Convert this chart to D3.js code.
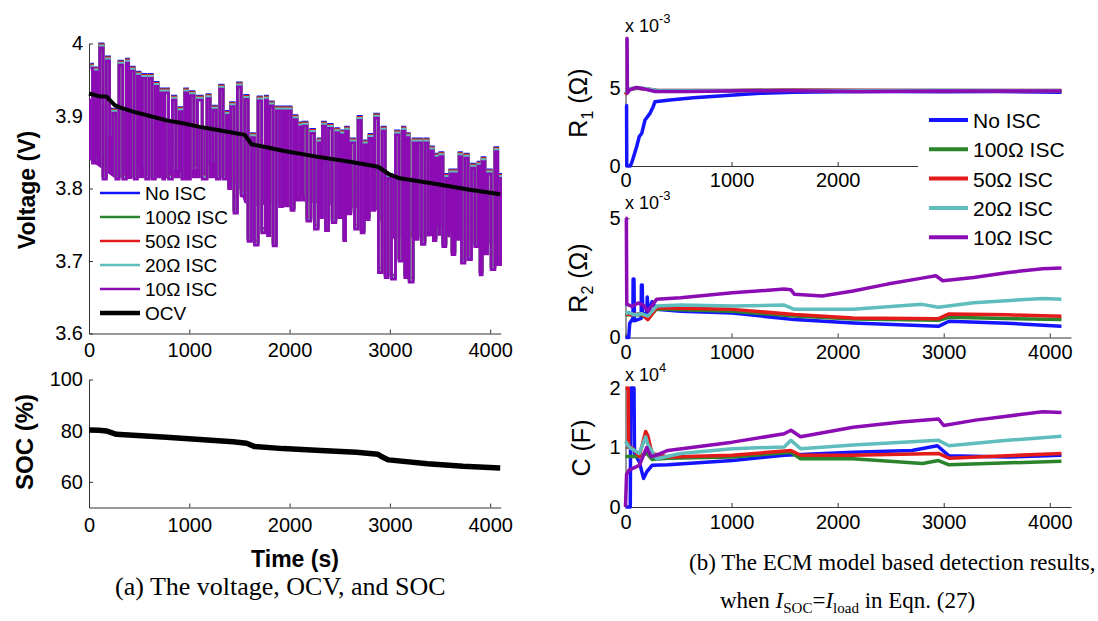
<!DOCTYPE html>
<html>
<head>
<meta charset="utf-8">
<script src="https://cdn.jsdelivr.net/npm/d3@7"></script>
<style>
  body { margin: 0; background: #fff; }
  svg text { font-family: "Liberation Sans", Arial, sans-serif; }
  .axis path, .axis line { stroke: #333; }
  .axis text { font-size: 20px; fill: #000; }
  svg text.caption { font-family: "Liberation Serif", "Times New Roman", serif; font-size: 23px; }
</style>
</head>
<body>
<svg id="fig" width="1098" height="621"></svg>
<script>
// ---------- data ----------
const seriesNames = ["No ISC", "100Ω ISC", "50Ω ISC", "20Ω ISC", "10Ω ISC"];
const seriesColors = ["#1414ff", "#2b842b", "#e41b1b", "#5fbdbd", "#8c0cb4"];
const timeTicks = [0, 1000, 2000, 3000, 4000];
const r1TimeTicks = [0, 1000, 2000]; // 3000 and 4000 sit under the legend

// terminal voltage (10Ω trace, the others lie underneath it): pulse peaks and troughs
const voltPeakT = [14, 57, 107, 173, 236, 300, 373, 416, 483, 533, 598, 662, 715, 755, 832, 898, 955, 1011, 1081, 1177, 1237, 1304, 1371, 1413, 1480, 1553, 1620, 1686, 1759, 1802, 1869, 1929, 1985, 2045, 2102, 2135, 2212, 2285, 2328, 2388, 2461, 2518, 2558, 2611, 2684, 2743, 2793, 2850, 2923, 2983, 3056, 3126, 3166, 3232, 3282, 3349, 3409, 3459, 3499, 3558, 3598, 3648, 3691, 3748, 3814, 3880, 3920, 3974, 4047];
const voltPeakV = [3.966, 3.961, 3.994, 3.976, 3.904, 3.970, 3.973, 3.962, 3.955, 3.952, 3.952, 3.941, 3.932, 3.932, 3.922, 3.906, 3.932, 3.928, 3.922, 3.924, 3.908, 3.937, 3.901, 3.913, 3.940, 3.923, 3.870, 3.921, 3.922, 3.914, 3.907, 3.907, 3.907, 3.895, 3.885, 3.886, 3.876, 3.863, 3.886, 3.883, 3.877, 3.874, 3.879, 3.863, 3.894, 3.860, 3.869, 3.897, 3.879, 3.814, 3.874, 3.879, 3.870, 3.863, 3.863, 3.863, 3.852, 3.842, 3.844, 3.814, 3.820, 3.820, 3.844, 3.842, 3.828, 3.831, 3.837, 3.820, 3.851];
const voltLowT = [35, 80, 140, 205, 268, 336, 395, 450, 508, 565, 630, 688, 735, 793, 865, 926, 983, 1046, 1129, 1207, 1270, 1337, 1392, 1446, 1517, 1586, 1650, 1722, 1780, 1836, 1900, 1957, 2015, 2073, 2118, 2173, 2248, 2306, 2358, 2425, 2490, 2540, 2585, 2648, 2714, 2768, 2822, 2886, 2953, 3016, 3091, 3149, 3192, 3257, 3315, 3380, 3434, 3480, 3528, 3578, 3620, 3670, 3714, 3780, 3847, 3900, 3947, 4010, 4075];
const voltLowV = [3.835, 3.845, 3.813, 3.870, 3.813, 3.813, 3.815, 3.813, 3.830, 3.813, 3.813, 3.820, 3.813, 3.813, 3.825, 3.813, 3.813, 3.825, 3.813, 3.835, 3.813, 3.813, 3.800, 3.766, 3.790, 3.727, 3.722, 3.739, 3.735, 3.721, 3.775, 3.776, 3.770, 3.784, 3.790, 3.755, 3.744, 3.760, 3.742, 3.753, 3.760, 3.728, 3.765, 3.744, 3.739, 3.757, 3.770, 3.684, 3.677, 3.675, 3.700, 3.677, 3.671, 3.730, 3.723, 3.740, 3.728, 3.750, 3.720, 3.740, 3.709, 3.730, 3.697, 3.702, 3.720, 3.681, 3.710, 3.688, 3.695];
const voltEndT = 4104, voltEndV = 3.816;
// the dense, nearly solid part of the voltage trace
const bandT = [0, 250, 600, 1000, 1400, 1500, 1550, 1650, 2000, 2500, 2880, 2950, 3500, 4104];
const bandHi = [3.925, 3.910, 3.898, 3.886, 3.877, 3.875, 3.872, 3.858, 3.852, 3.842, 3.832, 3.822, 3.808, 3.795];
const bandLo = [3.840, 3.815, 3.814, 3.814, 3.814, 3.800, 3.780, 3.775, 3.785, 3.775, 3.770, 3.730, 3.735, 3.720];

const ocvT = [0, 107, 173, 256, 306, 439, 605, 772, 938, 1104, 1271, 1436, 1553, 1620, 1770, 1935, 2268, 2601, 2883, 3000, 3099, 3432, 3765, 4100];
const ocvV = [3.931, 3.927, 3.927, 3.915, 3.912, 3.906, 3.900, 3.894, 3.890, 3.885, 3.881, 3.877, 3.874, 3.861, 3.857, 3.852, 3.844, 3.837, 3.830, 3.819, 3.814, 3.807, 3.799, 3.792];

const socT = [0, 100, 173, 273, 439, 772, 1104, 1436, 1570, 1653, 1935, 2312, 2667, 2880, 2915, 2986, 3376, 3730, 4100];
const socV = [80.3, 80.2, 79.9, 78.6, 78.2, 77.4, 76.6, 75.7, 75.1, 73.8, 73.0, 72.3, 71.6, 70.8, 69.9, 68.6, 67.1, 66.1, 65.4];

// R1 (x 1e-3 ohm), [time, value]
const r1NoIsc = [[0, 3.9], [10, 3.9], [12, 0], [45, 0], [58, 0.2], [105, 1.24], [130, 1.9], [153, 2.1], [184, 2.96], [231, 3.39], [260, 3.8], [278, 4.14], [419, 4.25], [639, 4.4], [954, 4.53], [1268, 4.68], [1582, 4.74], [2000, 4.78], [2500, 4.8], [3000, 4.78], [3500, 4.8], [4110, 4.75]];
const r1Isc100 = [[0, 4.6], [30, 4.9], [100, 5.0], [200, 4.95], [300, 4.85], [1000, 4.85], [1500, 4.88], [2000, 4.85], [3000, 4.85], [4110, 4.85]];
const r1Isc50 = [[0, 4.6], [30, 4.95], [100, 5.02], [200, 4.95], [300, 4.86], [1000, 4.86], [1500, 4.9], [2300, 4.88], [3000, 4.86], [4110, 4.86]];
const r1Isc20 = [[0, 4.7], [30, 4.95], [100, 5.05], [200, 4.97], [300, 4.86], [1000, 4.86], [1500, 4.88], [2300, 4.86], [3000, 4.87], [4110, 4.86]];
const r1Isc10 = [[0, 8.2], [15, 8.2], [18, 4.7], [40, 4.9], [100, 5.05], [180, 4.95], [280, 4.8], [600, 4.8], [1100, 4.85], [1600, 4.85], [2200, 4.8], [3000, 4.82], [4110, 4.83]];

// R2 (x 1e-3 ohm)
const r2NoIsc = [[0, 0], [30, 0], [40, 0.6], [70, 0.8], [72, 2.45], [80, 2.45], [84, 0.7], [148, 0.8], [150, 2.2], [158, 2.2], [162, 1.0], [200, 1.0], [205, 1.7], [215, 1.0], [250, 1.5], [293, 1.18], [520, 1.1], [1008, 1.03], [1593, 0.75], [2145, 0.61], [2950, 0.47], [3050, 0.68], [3600, 0.6], [4110, 0.47]];
const r2Isc100 = [[0, 0.95], [150, 0.95], [211, 0.78], [293, 1.2], [1008, 1.1], [1593, 0.9], [2145, 0.78], [2950, 0.72], [3050, 0.85], [4110, 0.75]];
const r2Isc50 = [[0, 1.0], [50, 0.95], [150, 1.0], [211, 0.75], [293, 1.25], [1008, 1.18], [1593, 0.96], [2145, 0.82], [2950, 0.79], [3050, 0.99], [3600, 0.95], [4110, 0.89]];
const r2Isc20 = [[0, 1.0], [30, 1.05], [80, 0.95], [150, 1.0], [211, 0.9], [293, 1.32], [520, 1.36], [1008, 1.32], [1496, 1.36], [1593, 1.18], [2145, 1.18], [2796, 1.39], [2950, 1.27], [3283, 1.46], [3933, 1.64], [4110, 1.6]];
const r2Isc10 = [[0, 5.0], [8, 5.0], [12, 1.4], [60, 1.3], [120, 1.45], [170, 1.35], [211, 1.1], [250, 1.35], [293, 1.6], [520, 1.67], [1008, 1.88], [1496, 2.03], [1560, 2.0], [1593, 1.81], [1853, 1.74], [2145, 1.95], [2470, 2.24], [2796, 2.49], [2926, 2.59], [2991, 2.38], [3283, 2.52], [3608, 2.73], [3933, 2.88], [4110, 2.92]];

// C (x 1e4 F)
const cNoIsc = [[0, 0], [45, 0], [50, 2.0], [80, 2.0], [85, 0.9], [130, 0.76], [170, 0.48], [200, 0.59], [250, 0.7], [400, 0.71], [1008, 0.78], [1496, 0.87], [2145, 0.92], [2700, 0.95], [2940, 1.03], [3050, 0.86], [3600, 0.84], [4110, 0.87]];
const cIsc100 = [[0, 0.85], [130, 0.85], [200, 0.9], [250, 0.8], [400, 0.82], [1008, 0.84], [1560, 0.92], [1650, 0.81], [2145, 0.81], [2800, 0.73], [2950, 0.78], [3050, 0.71], [4110, 0.77]];
const cIsc50 = [[0, 2.0], [25, 2.0], [30, 1.0], [60, 1.0], [130, 0.85], [190, 1.27], [210, 1.2], [250, 0.9], [400, 0.84], [1008, 0.87], [1560, 0.95], [1650, 0.87], [2145, 0.87], [2950, 0.9], [3050, 0.82], [4110, 0.9]];
const cIsc20 = [[0, 1.1], [40, 1.0], [130, 0.9], [190, 1.18], [210, 1.05], [293, 0.81], [520, 0.9], [1008, 0.98], [1496, 1.01], [1560, 1.12], [1650, 0.98], [2145, 1.04], [2950, 1.12], [3050, 1.03], [3600, 1.12], [4110, 1.19]];
const cIsc10 = [[0, 0], [10, 0.55], [33, 0.62], [130, 0.7], [200, 1.0], [240, 0.85], [293, 0.87], [400, 0.95], [1008, 1.09], [1496, 1.23], [1560, 1.29], [1650, 1.18], [2145, 1.34], [2600, 1.43], [2950, 1.48], [3000, 1.37], [3300, 1.46], [3933, 1.6], [4110, 1.59]];

// ---------- layout ----------
const svg = d3.select("svg#fig");

const xLeft = d3.scaleLinear().domain([0, 4105]).range([89, 500.7]);
const yVolt = d3.scaleLinear().domain([3.6, 4]).range([333.5, 43.5]);
const ySoc = d3.scaleLinear().domain([50, 100]).range([507.5, 379.5]);

const xRight = d3.scaleLinear().domain([0, 4200]).range([625.5, 1071]);
const yR1 = d3.scaleLinear().domain([0, 8.2]).range([166, 38.6]);
const yR2 = d3.scaleLinear().domain([0, 5]).range([337.5, 218.3]);
const yC = d3.scaleLinear().domain([0, 2]).range([507, 388]);

function addAxes(xScale, yScale, xTicks, yTicks, xPad, yPad) {
  svg.append("g")
    .attr("class", "axis")
    .attr("transform", `translate(0,${yScale.range()[0]})`)
    .call(d3.axisBottom(xScale).tickValues(xTicks).tickSizeInner(-4).tickSizeOuter(0)
      .tickPadding(xPad).tickFormat((d) => d));
  svg.append("g")
    .attr("class", "axis")
    .attr("transform", `translate(${xScale.range()[0]},0)`)
    .call(d3.axisLeft(yScale).tickValues(yTicks).tickSizeInner(-4).tickSizeOuter(0)
      .tickPadding(yPad).tickFormat((d) => d));
}

function yTitle(x, y, parts, size, weight) {
  const t = svg.append("text")
    .attr("transform", `translate(${x},${y}) rotate(-90)`)
    .attr("text-anchor", "middle")
    .attr("font-size", size)
    .attr("font-weight", weight);
  parts.forEach((p) => {
    t.append("tspan").attr("font-size", p.size || size).attr("dy", p.dy || 0).text(p.text);
  });
}

function exponent(x, y, power) {
  const t = svg.append("text").attr("x", x).attr("y", y).attr("font-size", 18).text("x 10");
  t.append("tspan").attr("font-size", 13).attr("dy", -9).text(power);
}

// ---------- (a) voltage ----------
addAxes(xLeft, yVolt, timeTicks, [3.6, 3.7, 3.8, 3.9, 4], 9, 6);

const voltPoints = voltPeakT.map((t, i) => ({ t: t, v: voltPeakV[i] }))
  .concat(voltLowT.map((t, i) => ({ t: t, v: voltLowV[i] })))
  .concat([{ t: voltEndT, v: voltEndV }])
  .sort((a, b) => a.t - b.t);

const band = bandT.map((t, i) => ({ t: t, hi: bandHi[i], lo: bandLo[i] }));
svg.append("path")
  .datum(band)
  .attr("fill", seriesColors[4])
  .attr("d", d3.area().x((d) => xLeft(d.t)).y0((d) => yVolt(d.lo)).y1((d) => yVolt(d.hi)));

const voltLine = d3.line()
  .x((d) => xLeft(d.t))
  .y((d) => yVolt(d.v))
  .curve(d3.curveStepAfter);

// the five traces overlap; the lighter-load ones only peek out above the pulse tops
const tipLift = [-4, -3, -3, -2, 0];
seriesColors.forEach((c, i) => {
  svg.append("path")
    .datum(voltPoints)
    .attr("fill", "none")
    .attr("stroke", c)
    .attr("stroke-width", 2.8)
    .attr("transform", `translate(0,${tipLift[i]})`)
    .attr("d", voltLine);
});

const ocv = ocvT.map((t, i) => ({ t: t, v: ocvV[i] }));
svg.append("path")
  .datum(ocv)
  .attr("fill", "none")
  .attr("stroke", "#000")
  .attr("stroke-width", 4)
  .attr("stroke-linejoin", "round")
  .attr("d", d3.line().x((d) => xLeft(d.t)).y((d) => yVolt(d.v)));

// left legend
const leftLegend = seriesNames.concat(["OCV"]);
const leftLegendColors = seriesColors.concat(["#000"]);
leftLegend.forEach((name, i) => {
  const y = 193 + i * 24;
  svg.append("line").attr("x1", 100).attr("x2", 140).attr("y1", y).attr("y2", y)
    .attr("stroke", leftLegendColors[i]).attr("stroke-width", i === 5 ? 4.5 : 2.5);
  svg.append("text").attr("x", 145).attr("y", y + 7).attr("font-size", 19).text(name);
});

yTitle(35, 190, [{ text: "Voltage (V)" }], 23, "bold");

// ---------- (a) SOC ----------
addAxes(xLeft, ySoc, timeTicks, [60, 80, 100], 10, 6);
const soc = socT.map((t, i) => ({ t: t, v: socV[i] }));
svg.append("path")
  .datum(soc)
  .attr("fill", "none")
  .attr("stroke", "#000")
  .attr("stroke-width", 5.5)
  .attr("stroke-linejoin", "round")
  .attr("d", d3.line().x((d) => xLeft(d.t)).y((d) => ySoc(d.v)));

yTitle(33, 442, [{ text: "SOC (%)" }], 24, "bold");
svg.append("text").attr("x", 295).attr("y", 567).attr("text-anchor", "middle")
  .attr("font-size", 23).attr("font-weight", "bold").text("Time (s)");

// ---------- (b) ECM parameters ----------
const panels = [
  { y: yR1, xTicks: r1TimeTicks, ticks: [0, 5], series: [r1NoIsc, r1Isc100, r1Isc50, r1Isc20, r1Isc10], exp: "-3", expY: 32, title: "R", sub: "1", titleY: 103, pad: 7 },
  { y: yR2, xTicks: timeTicks, ticks: [0, 5], series: [r2NoIsc, r2Isc100, r2Isc50, r2Isc20, r2Isc10], exp: "-3", expY: 209, title: "R", sub: "2", titleY: 278, pad: 7 },
  { y: yC, xTicks: timeTicks, ticks: [0, 1, 2], series: [cNoIsc, cIsc100, cIsc50, cIsc20, cIsc10], exp: "4", expY: 381, title: "C (F)", sub: null, titleY: 448, pad: 8 }
];

panels.forEach((p) => {
  addAxes(xRight, p.y, p.xTicks, p.ticks, p.pad, 5);
  const line = d3.line().x((d) => xRight(d[0])).y((d) => p.y(d[1]));
  p.series.forEach((s, i) => {
    svg.append("path")
      .datum(s)
      .attr("fill", "none")
      .attr("stroke", seriesColors[i])
      .attr("stroke-width", 3.5)
      .attr("stroke-linejoin", "round")
      .attr("d", line);
  });
  exponent(625, p.expY, p.exp);
  if (p.sub) {
    yTitle(587, p.titleY, [{ text: p.title }, { text: p.sub, size: 16, dy: 6 }, { text: " (Ω)", size: 25, dy: -6 }], 25, "normal");
  } else {
    yTitle(590, p.titleY, [{ text: p.title }], 25, "normal");
  }
});

// right legend (white box over the R1 axis)
svg.append("rect").attr("x", 918).attr("y", 101).attr("width", 180).attr("height", 150).attr("fill", "#fff");
seriesNames.forEach((name, i) => {
  const y = 120 + i * 29.3;
  svg.append("line").attr("x1", 929).attr("x2", 968).attr("y1", y).attr("y2", y)
    .attr("stroke", seriesColors[i]).attr("stroke-width", 4);
  svg.append("text").attr("x", 973).attr("y", y + 8).attr("font-size", 21).text(name);
});

// ---------- captions ----------
svg.append("text").attr("class", "caption").attr("x", 115).attr("y", 595)
  .style("font-size", "26px").text("(a) The voltage, OCV, and SOC");
svg.append("text").attr("class", "caption").attr("x", 689).attr("y", 570)
  .text("(b) The ECM model based detection results,");
const cap2 = svg.append("text").attr("class", "caption").attr("x", 720).attr("y", 608);
cap2.append("tspan").text("when ");
cap2.append("tspan").attr("font-style", "italic").text("I");
cap2.append("tspan").attr("font-size", 15).attr("dy", 5).text("SOC");
cap2.append("tspan").attr("dy", -5).text("=");
cap2.append("tspan").attr("font-style", "italic").text("I");
cap2.append("tspan").attr("font-size", 15).attr("dy", 5).text("load");
cap2.append("tspan").attr("dy", -5).text(" in Eqn. (27)");
</script>
</body>
</html>
